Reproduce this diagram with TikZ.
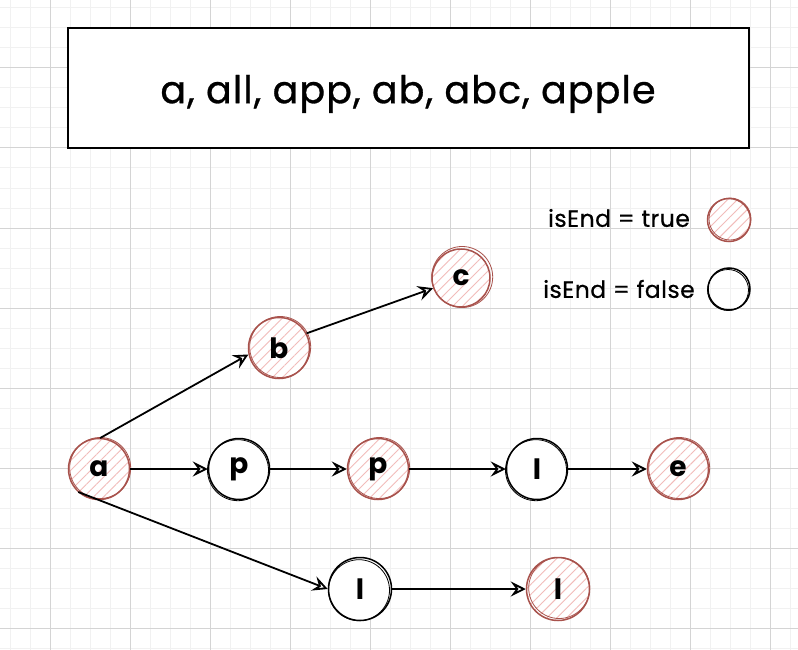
\documentclass[tikz,border=0pt]{standalone}
\usepackage{fontspec}
\setmainfont{Poppins}
\usetikzlibrary{arrows.meta,patterns.meta}
\definecolor{endred}{RGB}{168,82,76}
\definecolor{hach}{RGB}{242,188,186}
\definecolor{gminor}{RGB}{241,241,241}
\definecolor{gmajor}{RGB}{212,212,212}
\begin{document}
\begin{tikzpicture}[x=1pt,y=-1pt,
  trienode/.style={circle, minimum size=61pt, inner sep=0pt, line width=1.5pt,
    font=\fontsize{28}{28}\selectfont\bfseries},
  endnode/.style={trienode, draw=endred, preaction={fill=white},
    pattern={Lines[angle=45,distance=7pt,line width=0.9pt]}, pattern color=hach},
  midnode/.style={trienode, draw=black, fill=white},
  edge/.style={line width=1.8pt, -{Stealth[open,length=15pt,width=15pt,inset=5.5pt]}},
  legendtext/.style={font=\fontsize{23.5}{24}\selectfont\addfontfeatures{LetterSpace=2,FakeBold=0.6}, inner sep=0pt},
  sketchred/.style={draw=endred, line width=0.8pt},
  sketchblack/.style={draw=black, line width=0.8pt}
]
\useasboundingbox (0,0) rectangle (798,650);
\fill[white] (0,0) rectangle (798,650);
% grid
\foreach \x in {10,30,...,790} \draw[gminor, line width=1pt] (\x,0) -- (\x,650);
\foreach \y in {8,28,...,648} \draw[gminor, line width=1pt] (0,\y) -- (798,\y);
\foreach \x in {50,130,...,770} \draw[gmajor, line width=1pt] (\x,0) -- (\x,650);
\foreach \y in {68,148,...,628} \draw[gmajor, line width=1pt] (0,\y) -- (798,\y);

% title
\node[draw, line width=2.6pt, fill=white, minimum width=681pt, minimum height=120pt] (title) at (408.5,88) {};
\node[font=\fontsize{38}{38}\selectfont\addfontfeatures{LetterSpace=3,FakeBold=0.8}, inner sep=0pt]
  (titletext) at (408,94) {a, all, app, ab, abc, apple};

% nodes
\node[endnode] (a) at (99,469) {a};
\node[midnode] (p1) at (239,469) {p};
\node[endnode] (p2) at (378,469) {p};
\node[midnode] (l1) at (537,469) {l};
\node[endnode] (e) at (678,469) {e};
\node[endnode] (b) at (279,348) {b};
\node[endnode, minimum size=58pt] (c) at (461,278) {c};
\node[midnode, minimum size=63pt] (l2) at (360,589) {l};
\node[endnode, minimum size=63pt] (l3) at (558,589) {l};

% sketchy second strokes
\foreach \n in {a,p2,e,b,c,l3}
  \draw[sketchred] ([shift={(1.2,-1)}]\n.center) circle (30.5pt);
\foreach \n in {p1,l1,l2}
  \draw[sketchblack] ([shift={(-1,1.2)}]\n.center) circle (30.5pt);

% edges
\draw[edge] (a.88) -- (b.192);
\draw[edge] (a.east) -- (p1.west);
\draw[edge] (a.228) -- (l2.west);
\draw[edge] (b.28) -- (c.200);
\draw[edge] (p1.east) -- (p2.west);
\draw[edge] (p2.east) -- (l1.west);
\draw[edge] (l1.east) -- (e.west);
\draw[edge] (l2.east) -- (l3.west);

% legend
\node[legendtext] (legtrue) at (619,218) {isEnd = true};
\node[legendtext] (legfalse) at (619,289) {isEnd = false};
\node[endnode, minimum size=43pt] (legend1) at (729,220) {};
\node[midnode, minimum size=42pt, fill=none] (legend2) at (729,289) {};
\draw[sketchred] ([shift={(1,-1)}]legend1.center) circle (21pt);
\draw[sketchblack] ([shift={(-1,1)}]legend2.center) circle (20.5pt);
\end{tikzpicture}
\end{document}
